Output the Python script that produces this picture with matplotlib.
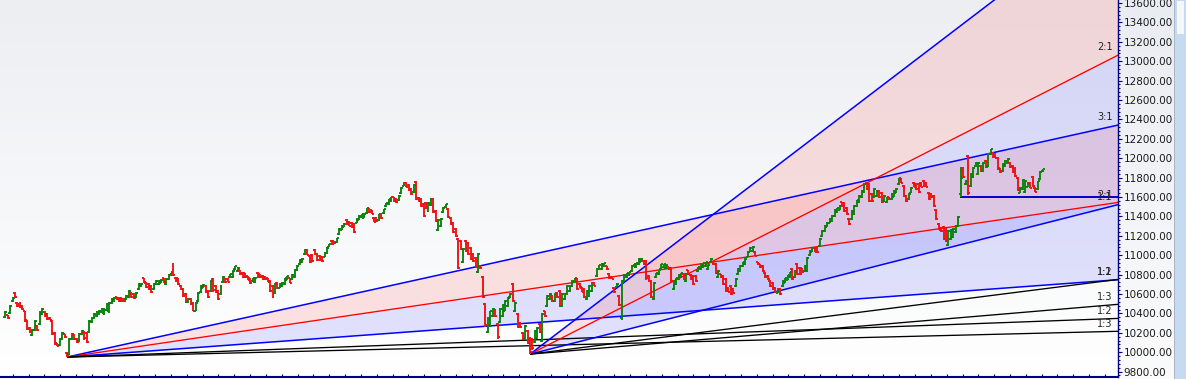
import numpy as np
import matplotlib
matplotlib.use("Agg")
import matplotlib.pyplot as plt
from matplotlib.collections import LineCollection
from matplotlib.colors import LinearSegmentedColormap
from matplotlib.patches import Rectangle

# ---------------- data ----------------
opens = [
10360,10380,10400,10530,10610,10510,10500,10480,10420,10320,
10250,10180,10230,10270,10290,10390,10410,10390,10355,10320,
10200,10095,10070,10140,10185,9995,9980,10140,10180,10140,
10120,10190,10210,10200,10210,10310,10350,10370,10390,10410,
10400,10440,10420,10510,10530,10565,10555,10560,10550,10550,
10570,10610,10600,10570,10650,10680,10760,10710,10700,10680,
10650,10700,10700,10715,10760,10700,10750,10795,10830,10760,
10760,10680,10650,10600,10520,10550,10510,10430,10530,10620,
10665,10680,10630,10630,10750,10680,10630,10600,10720,10760,
10755,10775,10780,10855,10840,10845,10820,10815,10785,10760,
10730,10720,10820,10805,10790,10780,10765,10730,10680,10610,
10710,10665,10680,10700,10745,10765,10750,10780,10850,10905,
10925,11010,11050,10995,11000,11050,11010,10990,10980,10985,
11020,11085,11150,11145,11135,11220,11265,11295,11360,11345,
11330,11320,11335,11365,11395,11385,11440,11485,11465,11385,
11380,11360,11430,11435,11505,11525,11555,11595,11580,11565,
11640,11715,11745,11720,11680,11650,11750,11590,11580,11530,
11540,11460,11520,11580,11460,11260,11300,11450,11495,11480,
11380,11330,11270,11170,11150,10930,11150,11130,11070,11010,
10970,10830,10890,10780,10500,10210,10280,10370,10440,10290,
10310,10370,10430,10480,10565,10700,10420,10390,10300,10200,
10140,10220,10150,10140,10110,10150,10290,10120,10420,
10480,10545,10580,10530,10610,10630,10480,10550,10600,
10630,10680,10720,10750,10700,10665,10650,10550,10580,
10630,10715,10790,10855,10860,10885,10885,10810,10775,10660,
10675,10580,10350,10730,10775,10795,10840,10885,10875,10910,
10935,10945,10940,10790,10730,10550,10775,10805,10855,10875,
10865,10875,10870,10650,10700,10750,10775,10810,10730,10845,
10800,10790,10790,10835,10860,10875,10885,10855,10925,10925,
10910,10780,10805,10790,10750,10665,10680,10655,10680,
10810,10840,10885,10910,10985,11035,11045,11035,10925,10905,
10890,10820,10790,10730,10710,10660,10615,10650,10680,
10715,10745,10775,10860,10780,10910,10870,10865,10840,10840,
11000,11035,11075,11070,11090,11200,11250,11295,11335,11355,
11400,11445,11470,11545,11540,11490,11375,11375,11425,11505,
11550,11600,11650,11740,11735,11630,11600,11610,11660,
11640,11560,11545,11595,11575,11605,11645,11730,11795,
11710,11610,11575,11645,11745,11730,11730,11745,11770,
11745,11640,11635,11610,11470,11325,11285,
11290,11270,11110,11170,11190,11240,11300,11630,11900,11730,
12020,11710,11810,11915,11840,11920,11870,11970,
11920,12040,12050,12045,12000,11895,11870,11915,
11955,11955,11920,11900,11800,11645,11680,11650,11705,
11745,11810,11695,11680,11790,11865]

highs = [
10420,10385,10490,10570,10620,10520,10520,10490,10430,10330,
10260,10240,10330,10280,10420,10460,10420,10400,10360,10330,
10210,10100,10150,10210,10190,10000,10150,10200,10190,10150,
10200,10230,10220,10210,10330,10360,10400,10420,10440,10460,
10460,10510,10520,10560,10570,10570,10560,10570,10560,10590,
10640,10620,10610,10620,10710,10710,10770,10720,10710,10690,
10710,10740,10740,10750,10770,10760,10810,10820,10920,10770,
10770,10690,10660,10610,10560,10560,10520,10520,10620,10690,
10700,10690,10640,10740,10760,10690,10640,10690,10790,10770,
10760,10810,10850,10890,10880,10850,10830,10820,10790,10770,
10770,10770,10830,10810,10800,10790,10770,10740,10690,10710,
10720,10710,10720,10770,10790,10770,10810,10860,10900,10960,
10970,11060,11060,11000,11010,11060,11020,11000,10990,11030,
11080,11120,11160,11150,11180,11280,11310,11330,11370,11350,
11340,11330,11380,11410,11430,11430,11490,11490,11470,11390,
11390,11430,11440,11480,11540,11580,11600,11600,11590,11620,
11700,11750,11750,11730,11690,11730,11760,11600,11590,11540,
11550,11550,11590,11590,11470,11370,11380,11500,11530,11490,
11390,11340,11280,11180,11160,11070,11160,11140,11080,11020,
10980,11020,10900,10790,10510,10360,10430,10460,10450,10300,
10460,10500,10540,10570,10610,10710,10520,10400,10310,10210,
10280,10230,10160,10150,10230,10260,10300,10400,10430,
10590,10610,10590,10610,10620,10640,10610,10610,10690,
10690,10740,10770,10760,10710,10670,10660,10640,10690,
10720,10720,10870,10900,10920,10920,10890,10820,10780,10670,
10710,10590,10740,10810,10820,10830,10900,10910,10920,10970,
10970,10950,10950,10800,10740,10720,10820,10850,10910,10910,
10900,10880,10880,10740,10770,10810,10820,10820,10820,10850,
10810,10800,10800,10880,10920,10920,10930,10900,10970,10930,
10920,10850,10810,10800,10760,10670,10690,10660,10760,
10870,10900,10930,10970,11040,11080,11090,11040,10930,10910,
10900,10830,10800,10740,10720,10670,10660,10660,10740,
10770,10800,10830,10870,10850,10920,10880,10870,10900,10980,
11050,11080,11080,11080,11180,11260,11310,11340,11380,11415,
11480,11490,11515,11550,11550,11500,11385,11465,11515,11570,
11620,11670,11745,11745,11745,11640,11690,11670,11670,
11650,11620,11600,11600,11640,11670,11690,11800,11800,
11720,11620,11640,11700,11750,11740,11740,11750,11780,
11750,11650,11640,11620,11480,11330,11290,
11300,11280,11260,11270,11280,11310,11400,11910,11910,11775,
12030,11850,11910,11960,11960,11930,11960,11980,
12050,12100,12060,12050,12010,11900,11950,11980,
12000,11960,11930,11910,11810,11700,11790,11770,11750,
11750,11820,11700,11770,11870,11890]

lows = [
10350,10340,10390,10520,10560,10470,10460,10440,10310,10230,
10200,10170,10220,10220,10280,10380,10360,10330,10330,10180,
10070,10060,10060,10130,10150,9950,9970,10130,10130,10100,
10110,10180,10130,10100,10200,10300,10340,10360,10380,10400,
10380,10430,10400,10500,10520,10540,10520,10520,10520,10540,
10560,10560,10550,10560,10640,10670,10710,10660,10640,10610,
10640,10690,10690,10710,10710,10690,10740,10790,10790,10720,
10690,10640,10570,10510,10510,10490,10420,10420,10520,10610,
10660,10610,10560,10620,10620,10610,10540,10590,10710,10710,
10720,10770,10770,10850,10830,10800,10770,10770,10740,10700,
10720,10710,10770,10770,10740,10740,10720,10620,10560,10600,
10650,10660,10670,10690,10740,10710,10740,10770,10840,10900,
10920,11000,11000,10920,10930,11000,10940,10940,10930,10980,
11010,11080,11110,11120,11130,11210,11260,11290,11310,11300,
11280,11230,11330,11360,11390,11380,11430,11440,11420,11340,
11340,11350,11370,11430,11500,11520,11550,11550,11540,11560,
11630,11710,11700,11660,11620,11640,11570,11550,11500,11390,
11480,11450,11510,11440,11340,11250,11290,11440,11490,11380,
11310,11230,11190,10860,11050,10920,11030,11000,10950,10930,
10870,10820,10860,10560,10260,10200,10260,10360,10360,10140,
10300,10360,10420,10470,10560,10520,10410,10250,10250,10130,
10130,10080,9980,10020,10100,10140,10200,10110,10360,
10470,10540,10520,10520,10560,10470,10470,10540,10590,
10620,10670,10710,10640,10660,10620,10560,10540,10570,
10620,10680,10780,10850,10850,10880,10850,10750,10750,10610,
10670,10480,10330,10720,10770,10790,10830,10880,10870,10900,
10930,10900,10740,10720,10560,10540,10770,10800,10850,10870,
10860,10850,10720,10640,10690,10740,10770,10740,10720,10800,
10740,10690,10720,10830,10850,10870,10880,10850,10920,10900,
10810,10770,10770,10690,10620,10620,10590,10610,10670,
10800,10830,10880,10900,10980,11030,11040,10990,10900,10870,
10830,10770,10740,10670,10640,10610,10610,10590,10670,
10710,10740,10770,10740,10770,10800,10800,10820,10830,10830,
10990,11030,11030,11020,11080,11190,11240,11290,11330,11345,
11390,11440,11465,11500,11445,11415,11310,11365,11415,11500,
11540,11590,11640,11670,11550,11550,11590,11600,11590,
11540,11550,11540,11570,11570,11600,11640,11720,11740,
11600,11550,11570,11640,11700,11670,11640,11700,11700,
11700,11570,11590,11500,11360,11260,11240,
11160,11140,11100,11160,11180,11230,11290,11595,11800,11725,
11620,11700,11800,11910,11830,11860,11860,11900,
11910,12030,12000,12000,11880,11850,11860,11910,
11950,11900,11850,11810,11660,11640,11670,11640,11700,
11690,11700,11650,11670,11780,11860]

closes = [
10410,10350,10480,10560,10570,10480,10470,10450,10330,10240,
10210,10230,10320,10230,10400,10450,10370,10340,10335,10190,
10080,10065,10140,10200,10155,9960,10140,10190,10140,10110,
10190,10220,10150,10110,10320,10350,10390,10410,10430,10450,
10440,10500,10510,10550,10560,10545,10525,10530,10525,10580,
10630,10570,10560,10610,10700,10700,10720,10670,10650,10620,
10700,10730,10730,10745,10720,10750,10800,10815,10800,10730,
10700,10650,10580,10520,10550,10500,10430,10510,10610,10680,
10695,10620,10570,10730,10640,10620,10550,10680,10780,10720,
10725,10805,10840,10885,10870,10805,10780,10775,10745,10710,
10760,10760,10775,10775,10750,10750,10725,10630,10570,10700,
10660,10705,10715,10760,10785,10715,10800,10850,10890,10955,
10965,11050,11005,10925,10940,11010,10950,10950,10940,11025,
11070,11115,11115,11125,11175,11270,11305,11325,11320,11305,
11290,11240,11375,11405,11425,11420,11485,11445,11425,11345,
11350,11420,11380,11475,11535,11575,11595,11555,11545,11615,
11690,11745,11705,11670,11630,11720,11580,11560,11510,11400,
11490,11540,11580,11450,11350,11360,11370,11490,11525,11390,
11320,11240,11200,10870,11060,11060,11040,11010,10960,10940,
10880,11010,10870,10570,10280,10340,10420,10450,10370,10160,
10450,10490,10530,10560,10605,10530,10510,10260,10260,10140,
10270,10090,10000,10040,10220,10250,10210,10390,10370,
10580,10605,10530,10600,10570,10480,10600,10600,10680,
10680,10730,10760,10650,10670,10625,10570,10630,10680,
10710,10685,10860,10895,10910,10915,10855,10760,10755,10620,
10705,10490,10720,10800,10815,10825,10890,10905,10915,10960,
10965,10905,10760,10730,10570,10710,10815,10845,10905,10905,
10895,10855,10730,10730,10760,10800,10815,10750,10810,10805,
10750,10700,10730,10875,10910,10915,10925,10895,10965,10905,
10820,10840,10775,10700,10630,10625,10600,10615,10750,
10860,10890,10925,10960,11035,11075,11085,10995,10905,10875,
10840,10780,10750,10680,10650,10620,10655,10600,10730,
10765,10795,10825,10750,10840,10810,10810,10825,10890,10970,
11040,11075,11035,11030,11170,11250,11300,11335,11375,11405,
11470,11485,11510,11505,11455,11425,11320,11455,11505,11565,
11610,11660,11735,11680,11560,11560,11680,11660,11600,
11550,11610,11595,11575,11635,11665,11685,11790,11745,
11610,11560,11635,11695,11705,11680,11650,11705,11710,
11705,11580,11595,11510,11370,11265,11245,
11170,11150,11250,11260,11270,11300,11390,11800,11810,11770,
11640,11840,11900,11955,11950,11870,11950,11910,
12040,12090,12010,12005,11890,11855,11940,11975,
11995,11905,11860,11820,11670,11695,11780,11760,11745,
11695,11710,11655,11760,11860,11885]

# Gann fans: origin bar, origin price, 1:1 slope (price per bar)
fan_origin_bar = [25, 212]
fan_origin_price = [9950, 9980]
fan_unit_slope = [1.878, 6.49]
fan_ratios = [3.0, 2.0, 1.0, 1 / 2, 1 / 3]
fan_names = ["3:1", "2:1", "1:1", "1:2", "1:3"]
fan_colors = ["#0000ff", "#ff0000", "#0000ff", "#000000", "#000000"]

support_start_bar = 386
support_price = 11595

y_major = list(range(9800, 13601, 200))

# ---------------- layout ----------------
W, H, DPI = 1186, 379, 100
fig = plt.figure(figsize=(W / DPI, H / DPI), dpi=DPI)
fig.patch.set_facecolor("white")

PLOT_R, PLOT_B = 1118, 377
PX_PER_BAR = 2.476
PRICE_PER_PX = 10.309
TOP_PRICE = 13631
ANCHOR_BAR, ANCHOR_PX = 25, 67

# right-hand scale panel background
bg2 = fig.add_axes([PLOT_R / W, 0, (1175 - PLOT_R) / W, 1], zorder=-5)
grad = np.linspace(0, 1, 256).reshape(-1, 1)
panel_cmap = LinearSegmentedColormap.from_list("p", ["#fbfbfc", "#e9ecf1"])
bg2.imshow(grad, aspect="auto", cmap=panel_cmap, origin="lower",
           extent=[0, 1, 0, 1])
bg2.set_axis_off()
fig.patches.append(Rectangle((1175 / W, 0), 11 / W, 1, transform=fig.transFigure,
                             facecolor="#c6dbf0", edgecolor="none", zorder=-4))
fig.patches.append(Rectangle((1177 / W, 1 - 34 / H), 7 / W, 33 / H,
                             transform=fig.transFigure, facecolor="#f4f8fc",
                             edgecolor="none", zorder=-3))
fig.patches.append(Rectangle((1174 / W, 0), 1 / W, 1, transform=fig.transFigure,
                             facecolor="#a9b4c6", edgecolor="none", zorder=-3))

ax = fig.add_axes([0, (H - PLOT_B) / H, PLOT_R / W, PLOT_B / H])
xmin = ANCHOR_BAR - ANCHOR_PX / PX_PER_BAR
xmax = ANCHOR_BAR + (PLOT_R - ANCHOR_PX) / PX_PER_BAR
ymax = TOP_PRICE
ymin = TOP_PRICE - PLOT_B * PRICE_PER_PX
ax.set_xlim(xmin, xmax)
ax.set_ylim(ymin, ymax)

bg_cmap = LinearSegmentedColormap.from_list("bg", ["#ffffff", "#eceef2"])
ax.imshow(grad, aspect="auto", cmap=bg_cmap, origin="lower",
          extent=[xmin, xmax, ymin, ymax], zorder=0)

# ---------------- fans ----------------
for ob, op, k in zip(fan_origin_bar, fan_origin_price, fan_unit_slope):
    xs = np.array([ob, xmax])
    ys = [op + r * k * (xs - ob) for r in fan_ratios]
    ax.fill_between(xs, ys[0], ys[1], facecolor="#ff5a5a", alpha=0.17,
                    lw=0, zorder=1)
    ax.fill_between(xs, ys[1], ys[2], facecolor="#5a5aff", alpha=0.17,
                    lw=0, zorder=1)
    for r, c, name in zip(fan_ratios, fan_colors, fan_names):
        y = op + r * k * (xs - ob)
        lw = 1.1 if c == "#0000ff" else 0.95
        ax.plot(xs, y, color=c, lw=lw, zorder=2, solid_capstyle="butt")
        yend = y[-1]
        if yend < ymax:
            ax.annotate(name, xy=(xmax, yend), xytext=(-4, 2),
                        textcoords="offset points", ha="right", va="bottom",
                        fontsize=7, color="#222222", zorder=5)

ax.plot([support_start_bar, xmax], [support_price, support_price],
        color="#0000c8", lw=1.4, zorder=2)

# ---------------- OHLC bars ----------------
tick = 0.8
segs, cols = [], []
for i, (o, h, l, c) in enumerate(zip(opens, highs, lows, closes)):
    col = "#0a820a" if c >= o else "#f01010"
    segs += [[(i, l), (i, h)], [(i - tick, o), (i, o)], [(i, c), (i + tick, c)]]
    cols += [col] * 3
ax.add_collection(LineCollection(segs, colors=cols, linewidths=1.35,
                                 capstyle="butt", zorder=3))

# ---------------- axes styling ----------------
for sp in ["top", "left"]:
    ax.spines[sp].set_visible(False)
ax.spines["right"].set_color("#000080")
ax.spines["right"].set_linewidth(1.0)
ax.spines["bottom"].set_color("#000080")
ax.spines["bottom"].set_linewidth(1.5)

ax.yaxis.tick_right()
ax.set_yticks(y_major)
ax.set_yticklabels([f"{v:.2f}" for v in y_major], fontsize=7.5,
                   fontfamily="DejaVu Sans", color="#1a1a1a")
ax.set_yticks(list(range(9760, 13640, 40)), minor=True)
ax.tick_params(axis="y", which="major", direction="out", length=3,
               width=0.8, color="#000080", pad=1)
ax.tick_params(axis="y", which="minor", direction="out", length=1.5,
               width=0.8, color="#000080")

xt_px = np.arange(12.7, PLOT_R, 15.83)
ax.set_xticks(ANCHOR_BAR + (xt_px - ANCHOR_PX) / PX_PER_BAR)
ax.set_xticklabels([])
ax.tick_params(axis="x", direction="in", length=2.5, width=0.8,
               color="#000080")

fig.savefig("out.png", dpi=DPI, facecolor=fig.get_facecolor())
